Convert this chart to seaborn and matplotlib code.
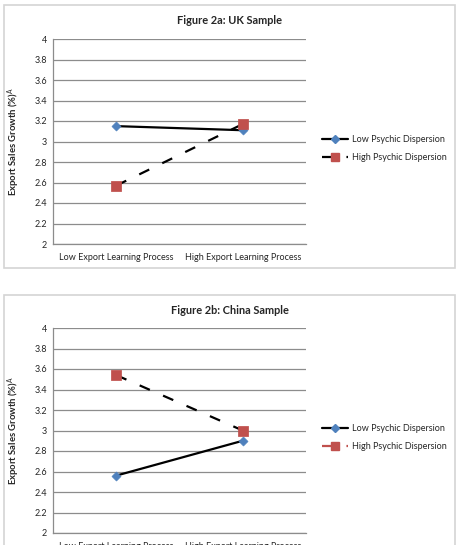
import pandas as pd
import seaborn as sns
import matplotlib.pyplot as plt
from matplotlib.lines import Line2D
from matplotlib.patches import Rectangle
from matplotlib.ticker import FuncFormatter

# Data
categories = ['Low Export Learning Process', 'High Export Learning Process']
series_names = ['Low Psychic Dispersion', 'High Psychic Dispersion']
uk_low = [3.15, 3.11]
uk_high = [2.57, 3.17]
china_low = [2.56, 2.90]
china_high = [3.54, 3.00]
titles = ['Figure 2a: UK Sample', 'Figure 2b: China Sample']
y_ticks = [2, 2.2, 2.4, 2.6, 2.8, 3, 3.2, 3.4, 3.6, 3.8, 4]

BLUE = '#4F81BD'
RED = '#C0504D'
GRID = '#8C8C8C'
DASH = (0, (5, 6.5))

sns.set_style('white')
plt.rcParams['font.family'] = ['Lato', 'DejaVu Sans']
plt.rcParams['mathtext.fontset'] = 'custom'
plt.rcParams['mathtext.rm'] = 'Lato'
plt.rcParams['mathtext.bf'] = 'Lato:bold'

W, H = 457, 545
fig = plt.figure(figsize=(W / 100, H / 100), dpi=100)
fig.patch.set_facecolor('white')


def px_box(left, top, right, bottom):
    return [left / W, 1 - bottom / H, (right - left) / W, (bottom - top) / H]


# panel frames (Excel chart area borders)
for top, bottom in [(5, 268), (295, 560)]:
    fig.patches.append(Rectangle((4 / W, 1 - bottom / H), 451 / W, (bottom - top) / H,
                                 transform=fig.transFigure, fill=False,
                                 edgecolor='#D4D4D4', linewidth=1.2, zorder=0))

panels = [
    (uk_low, uk_high, 39, 244, 21, 'black'),
    (china_low, china_high, 328, 533, 310, RED),
]

for (low, high, top, bottom, title_y, leg_col), title in zip(panels, titles):
    ax = fig.add_axes(px_box(53, top, 306, bottom))
    df = pd.DataFrame({
        'x': [0, 1, 0, 1],
        'y': low + high,
        'series': [series_names[0]] * 2 + [series_names[1]] * 2,
    })
    d_low = df[df['series'] == series_names[0]]
    d_high = df[df['series'] == series_names[1]]

    sns.lineplot(data=d_low, x='x', y='y', color='black', linewidth=1.6, ax=ax, zorder=3)
    sns.lineplot(data=d_high, x='x', y='y', color='black', linewidth=1.6, ax=ax, zorder=3,
                 linestyle=DASH)
    sns.scatterplot(data=d_low, x='x', y='y', marker='D', s=22, color=BLUE,
                    edgecolor=BLUE, ax=ax, zorder=4)
    sns.scatterplot(data=d_high, x='x', y='y', marker='s', s=45, color=RED,
                    edgecolor=RED, ax=ax, zorder=4)

    ax.set_xlim(-0.5, 1.5)
    ax.set_ylim(2, 4)
    ax.set_yticks(y_ticks)
    ax.yaxis.set_major_formatter(FuncFormatter(lambda v, p: f'{v:g}'))
    ax.set_xticks([0, 1])
    ax.set_xticklabels(categories)
    ax.grid(axis='y', color=GRID, linewidth=0.9)
    ax.set_axisbelow(True)
    for s in ['top', 'right']:
        ax.spines[s].set_visible(False)
    ax.spines['left'].set_color(GRID)
    ax.spines['bottom'].set_color(GRID)
    ax.spines['left'].set_linewidth(0.9)
    ax.spines['bottom'].set_linewidth(0.9)
    ax.tick_params(axis='y', length=0, labelsize=6.5, pad=4.3)
    ax.tick_params(axis='x', length=0, labelsize=6.5, pad=6.5)
    ax.set_xlabel('')
    ax.set_ylabel(r'Export Sales Growth (%)$^{\mathrm{A}}$', fontsize=6.8,
                  fontweight='bold')
    ax.yaxis.set_label_coords((22 - 53) / 253, 0.5)

    fig.text(229.5 / W, 1 - title_y / H, title, ha='center', va='center',
             fontsize=7.9, fontweight='bold')

    handles = [
        Line2D([], [], color='black', linewidth=1.6, marker='D', markersize=4,
               markerfacecolor=BLUE, markeredgecolor=BLUE),
        Line2D([], [], color=leg_col, linewidth=1.6, linestyle=(0, (4.5, 6.5)), marker='s',
               markersize=5.5, markerfacecolor=RED, markeredgecolor=RED),
    ]
    ax.legend(handles, series_names, loc='center left',
              bbox_to_anchor=((322 - 53) / 253, 0.465), frameon=False, fontsize=6.5,
              handlelength=2.9, handletextpad=0.45, labelspacing=0.95,
              borderaxespad=0, borderpad=0)

fig.savefig('out.png', dpi=100)
